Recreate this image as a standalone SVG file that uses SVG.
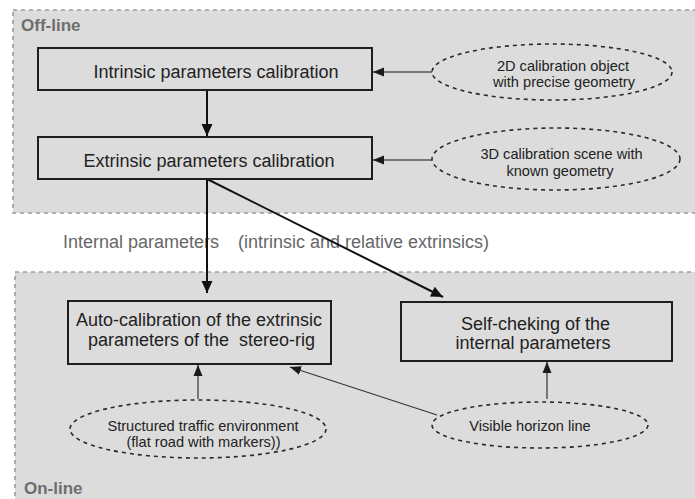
<svg xmlns="http://www.w3.org/2000/svg" width="695" height="499" viewBox="0 0 695 499">
<style>
.panel{fill:#dcdcdc;stroke:#9a9a9a;stroke-width:1.6;stroke-dasharray:4 4}
.plabel{font-family:"Liberation Sans",Arial,sans-serif;font-weight:bold;font-size:17px;fill:#6e6e6e}
.box{fill:#dcdcdc;stroke:#1e1e1e;stroke-width:2}
.bt{font-family:"Liberation Sans",Arial,sans-serif;font-size:18px;fill:#222;text-anchor:middle}
.ell{fill:none;stroke:#2a2a2a;stroke-width:1.6;stroke-dasharray:4 4}
.et{font-family:"Liberation Sans",Arial,sans-serif;font-size:14.6px;fill:#222;text-anchor:middle}
.main{fill:none;stroke:#111;stroke-width:2;marker-end:url(#ah)}
.aux{fill:none;stroke:#777;stroke-width:2;marker-end:url(#as)}
.thin{fill:none;stroke:#333;stroke-width:1.2;marker-end:url(#as)}
.lbl{font-family:"Liberation Sans",Arial,sans-serif;font-size:18px;fill:#666}
</style>
<defs>
<marker id="ah" markerUnits="userSpaceOnUse" markerWidth="12" markerHeight="12" viewBox="0 0 12 12" refX="12" refY="6" orient="auto"><path d="M0,0.5 L12,6 L0,11.5 Z" fill="#111"/></marker>
<marker id="as" markerUnits="userSpaceOnUse" markerWidth="11" markerHeight="10" viewBox="0 0 11 10" refX="11" refY="5" orient="auto"><path d="M0,0.5 L11,5 L0,9.5 Z" fill="#1a1a1a"/></marker>
</defs>
<rect width="695" height="499" fill="#ffffff"/>
<g id="offline-panel">
<rect class="panel" x="13" y="10" width="700" height="203"/>
<text class="plabel" x="21" y="31">Off-line</text>
</g>
<g id="online-panel">
<rect class="panel" x="15" y="272" width="700" height="240"/>
<text class="plabel" x="24" y="494">On-line</text>
</g>
<g id="internal-label">
<text class="lbl" x="63" y="248">Internal parameters</text>
<text class="lbl" x="238" y="248">(intrinsic and relative extrinsics)</text>
</g>
<g id="connectors">
<line class="main" x1="207" y1="90" x2="207" y2="136"/>
<line class="main" x1="207" y1="179" x2="207" y2="293"/>
<line class="main" x1="207" y1="179" x2="443" y2="297"/>
<line class="aux" x1="432" y1="72" x2="373" y2="72"/>
<line class="aux" x1="432" y1="160" x2="373" y2="160"/>
<line class="aux" x1="198" y1="399" x2="198" y2="365"/>
<line class="aux" x1="547" y1="399" x2="547" y2="362"/>
<line class="thin" x1="437" y1="415" x2="290" y2="367"/>
</g>
<g id="intrinsic">
<rect class="box" x="38" y="48" width="334" height="42"/>
<text class="bt" x="216" y="78">Intrinsic parameters calibration</text>
</g>
<g id="extrinsic">
<rect class="box" x="38" y="137" width="334" height="42"/>
<text class="bt" x="209" y="166.5">Extrinsic parameters calibration</text>
</g>
<g id="autocal">
<rect class="box" x="68" y="301" width="263" height="63"/>
<text class="bt" x="199" y="326">Auto-calibration of the extrinsic</text>
<text class="bt" x="201.5" y="346" xml:space="preserve">parameters of the  stereo-rig</text>
</g>
<g id="selfcheck">
<rect class="box" x="401" y="302" width="271" height="59"/>
<text class="bt" x="535.5" y="330">Self-cheking of the</text>
<text class="bt" x="533" y="349">internal parameters</text>
</g>
<g id="obj2d">
<ellipse class="ell" cx="552" cy="72" rx="120" ry="28"/>
<text class="et" x="563" y="70.5">2D calibration object</text>
<text class="et" x="564" y="87">with precise geometry</text>
</g>
<g id="scene3d">
<ellipse class="ell" cx="556" cy="159" rx="124" ry="31"/>
<text class="et" x="561.5" y="159">3D calibration scene with</text>
<text class="et" x="560" y="175.5">known geometry</text>
</g>
<g id="traffic">
<ellipse class="ell" cx="198" cy="429" rx="128" ry="29"/>
<text class="et" x="203" y="430.5">Structured traffic environment</text>
<text class="et" x="203.5" y="446.5">(flat road with markers))</text>
</g>
<g id="horizon">
<ellipse class="ell" cx="540" cy="425" rx="108" ry="23"/>
<text class="et" x="530" y="430.5">Visible horizon line</text>
</g>
</svg>
